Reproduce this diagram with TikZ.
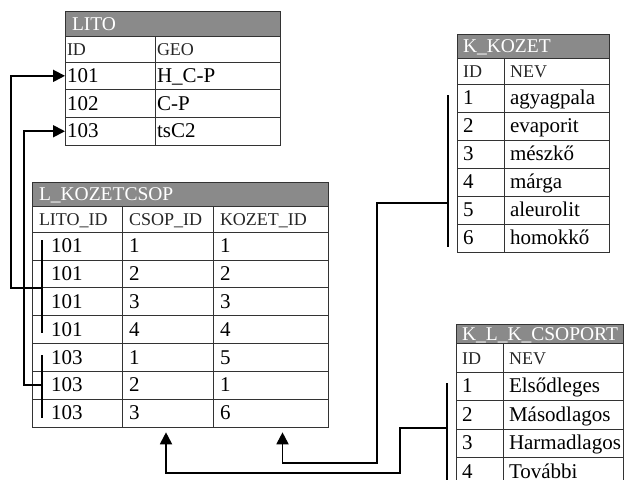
\documentclass[tikz,border=0pt]{standalone}
\usepackage{fontspec}
\setmainfont{Liberation Serif}
\usetikzlibrary{positioning, arrows.meta}

\definecolor{hdrgray}{RGB}{138,138,138}

\tikzset{
  cell/.style={draw=black!80, line width=0.8pt, anchor=north west, outer sep=0pt,
    inner xsep=2pt, inner ysep=0pt, align=left, text height=14pt, text depth=1pt,
    font=\fontsize{21}{23}\selectfont},
  hdr/.style={cell, fill=hdrgray, text=white, font=\fontsize{19.5}{21}\selectfont},
  colhd/.style={cell, text=black!85, font=\fontsize{18}{20}\selectfont},
  link/.style={line width=1.8pt},
  bar/.style={line width=1.6pt},
}

\begin{document}
\begin{tikzpicture}[x=1pt, y=-1pt, >={Triangle[length=12pt,width=12pt]}]
  \useasboundingbox (0,0) rectangle (626,479);
  \clip (0,0) rectangle (626,479);

  % Table LITO
  \node[hdr, inner xsep=7pt, text width=201pt, minimum height=25pt] (lito-0-a) at (65,11) {LITO};
  \node[colhd, text width=86pt, minimum height=26pt] (lito-1-a) at (lito-0-a.south west) {ID};
  \node[colhd, text width=121pt, minimum height=26pt] (lito-1-b) at (lito-1-a.north east) {GEO};
  \foreach \a/\b [count=\i from 2, remember=\i as \j (initially 1)] in {101/H\_C-P, 102/C-P, 103/tsC2} {
    \node[cell, text width=86pt, minimum height=27.7pt] (lito-\i-a) at (lito-\j-a.south west) {\a};
    \node[cell, text width=121pt, minimum height=27.7pt] (lito-\i-b) at (lito-\i-a.north east) {\b};
  }

  % Table K_KOZET
  \node[hdr, inner xsep=6pt, text width=140pt, minimum height=24pt] (kk-0-a) at (457,34) {K\_KOZET};
  \node[colhd, inner xsep=6pt, text width=35pt, minimum height=26pt] (kk-1-a) at (kk-0-a.south west) {ID};
  \node[colhd, inner xsep=6pt, text width=93pt, minimum height=26pt] (kk-1-b) at (kk-1-a.north east) {NEV};
  \foreach \a/\b [count=\i from 2, remember=\i as \j (initially 1)] in {1/agyagpala, 2/evaporit, 3/mészkő, 4/márga, 5/aleurolit, 6/homokkő} {
    \node[cell, inner xsep=6pt, text width=35pt, minimum height=28pt] (kk-\i-a) at (kk-\j-a.south west) {\a};
    \node[cell, inner xsep=6pt, text width=93pt, minimum height=28pt] (kk-\i-b) at (kk-\i-a.north east) {\b};
  }

  % Table L_KOZETCSOP
  \node[hdr, inner xsep=7pt, text width=282pt, minimum height=24pt] (lk-0-a) at (32,182) {L\_KOZETCSOP};
  \node[colhd, inner xsep=7pt, text width=76pt, minimum height=26pt] (lk-1-a) at (lk-0-a.south west) {LITO\_ID};
  \node[colhd, inner xsep=7pt, text width=77pt, minimum height=26pt] (lk-1-b) at (lk-1-a.north east) {CSOP\_ID};
  \node[colhd, inner xsep=7pt, text width=101pt, minimum height=26pt] (lk-1-c) at (lk-1-b.north east) {KOZET\_ID};
  \foreach \a/\b/\c [count=\i from 2, remember=\i as \j (initially 1)] in {101/1/1, 101/2/2, 101/3/3, 101/4/4, 103/1/5, 103/2/1, 103/3/6} {
    \node[cell, inner xsep=7pt, text width=76pt, minimum height=27.9pt] (lk-\i-a) at (lk-\j-a.south west) {\hspace*{12pt}\a};
    \node[cell, inner xsep=7pt, text width=77pt, minimum height=27.9pt] (lk-\i-b) at (lk-\i-a.north east) {\b};
    \node[cell, inner xsep=7pt, text width=101pt, minimum height=27.9pt] (lk-\i-c) at (lk-\i-b.north east) {\c};
  }

  % Table K_L_K_CSOPORT
  \node[hdr, inner xsep=6pt, text width=155pt, minimum height=19pt] (kl-0-a) at (456,324) {K\_L\_K\_CSOPORT};
  \node[colhd, inner xsep=6pt, text width=35pt, minimum height=29pt] (kl-1-a) at (kl-0-a.south west) {ID};
  \node[colhd, inner xsep=6pt, text width=108pt, minimum height=29pt] (kl-1-b) at (kl-1-a.north east) {NEV};
  \foreach \a/\b [count=\i from 2, remember=\i as \j (initially 1)] in {1/Elsődleges, 2/Másodlagos, 3/Harmadlagos, 4/További} {
    \node[cell, inner xsep=6pt, text width=35pt, minimum height=28.5pt] (kl-\i-a) at (kl-\j-a.south west) {\a};
    \node[cell, inner xsep=6pt, text width=108pt, minimum height=28.5pt] (kl-\i-b) at (kl-\i-a.north east) {\b};
  }

  % Bars on the referencing rows
  \coordinate (lk-b1-top) at (42,240);
  \coordinate (lk-b1-mid) at (42,288);
  \coordinate (lk-b1-bot) at (42,333);
  \coordinate (lk-b2-top) at (42,355);
  \coordinate (lk-b2-mid) at (42,385);
  \coordinate (lk-b2-bot) at (42,418);
  \coordinate (kk-bar-top) at (448,95);
  \coordinate (kk-bar-mid) at (448,203);
  \coordinate (kk-bar-bot) at (448,247);
  \coordinate (kl-bar-top) at (447,383);
  \coordinate (kl-bar-mid) at (447,428);
  \coordinate (kl-bar-bot) at (447,490);
  \draw[bar] (lk-b1-top) -- (lk-b1-bot);
  \draw[bar] (lk-b2-top) -- (lk-b2-bot);
  \draw[bar] (kk-bar-top) -- (kk-bar-bot);
  \draw[bar] (kl-bar-top) -- (kl-bar-bot);

  % Arrow ends under L_KOZETCSOP
  \coordinate (csop-in) at ([xshift=-1.5pt, yshift=-5pt]lk-8-b.south);
  \coordinate (kozet-in) at ([xshift=12pt, yshift=-5pt]lk-8-c.south);

  % Connections
  \draw[link, ->] (lk-b1-mid) -- ++(-31,0) |- (lito-2-a.west);
  \draw[link, ->] (lk-b2-mid) -- ++(-18,0) |- (lito-4-a.west);
  \draw[link, ->] (kk-bar-mid) -- ++(-71,0) -- ++(0,260) -| (kozet-in);
  \draw[link, ->] (kl-bar-mid) -- ++(-47,0) -- ++(0,45) -| (csop-in);
\end{tikzpicture}
\end{document}
